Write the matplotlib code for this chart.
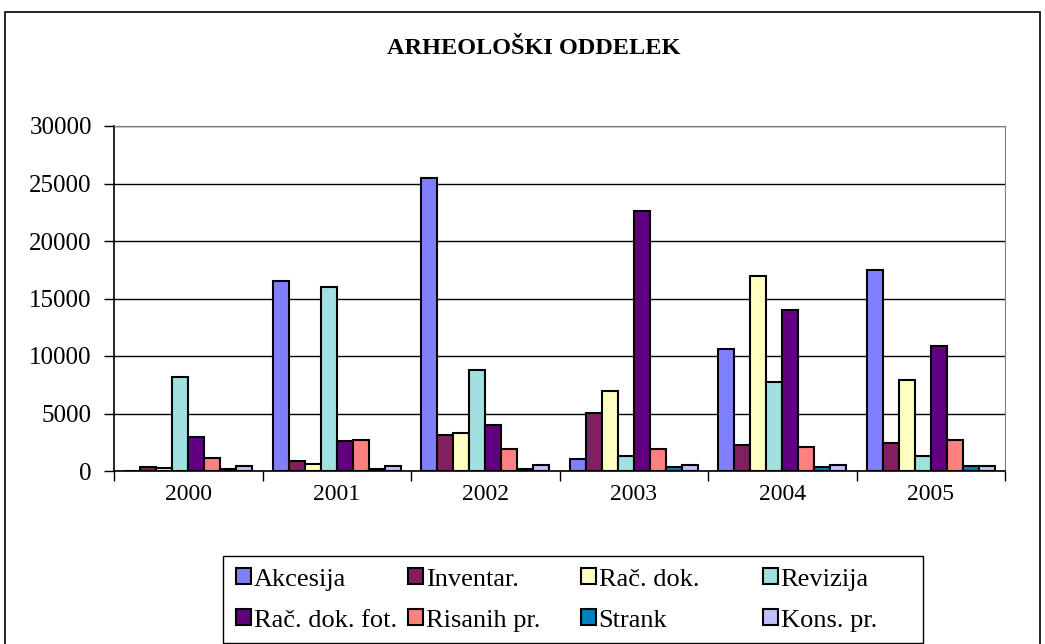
import matplotlib
matplotlib.use('Agg')
import matplotlib.pyplot as plt
import numpy as np
from matplotlib.patches import Rectangle

plt.rcParams['font.family'] = ['Liberation Serif', 'DejaVu Serif']

years = ['2000', '2001', '2002', '2003', '2004', '2005']
series = ['Akcesija', 'Inventar.', 'Rač. dok.', 'Revizija',
          'Rač. dok. fot.', 'Risanih pr.', 'Strank', 'Kons. pr.']

akcesija = [0, 16500, 25500, 1050, 10600, 17500]
inventar = [320, 870, 3100, 5050, 2230, 2400]
rac_dok = [300, 640, 3280, 6930, 17000, 7950]
revizija = [8150, 16000, 8800, 1330, 7770, 1330]
rac_dok_fot = [2930, 2600, 3970, 22600, 14000, 10900]
risanih = [1160, 2720, 1890, 1890, 2060, 2720]
strank = [170, 150, 150, 320, 320, 460]
kons = [460, 460, 520, 490, 490, 460]

values = [akcesija, inventar, rac_dok, revizija, rac_dok_fot, risanih, strank, kons]
colors = ['#8080FF', '#802060', '#FFFFC0', '#A0E0E0',
          '#600080', '#FF8080', '#0080C0', '#C0C0FF']

W, H = 1045, 644
fig = plt.figure(figsize=(W/100, H/100), dpi=100)
ax = fig.add_axes([114/W, 1 - 471/H, 891/W, 345/H])

x = np.arange(len(years))
w = 0.108
bars = []
for i, (name, vals, c) in enumerate(zip(series, values, colors)):
    b = ax.bar(x - 4*w + w/2 + i*w, vals, width=w, color=c, edgecolor='black',
               linewidth=1.5, label=name, zorder=3)
    bars.append(b)

ax.set_xlim(-0.5, len(years) - 0.5)
ax.set_ylim(0, 30000)
ax.set_yticks(range(0, 30001, 5000))
ax.tick_params(axis='y', labelsize=18, length=7, pad=9, direction='out', width=1)
ax.yaxis.grid(True, color='black', linewidth=1, zorder=0)

ax.set_xticks(x)
ax.set_xticklabels(years)
ax.set_xticks(np.arange(-0.5, len(years)), minor=True)
ax.tick_params(axis='x', which='major', length=0, labelsize=17, pad=9)
ax.tick_params(axis='x', which='minor', length=7, width=1)

for s in ['top', 'right']:
    ax.spines[s].set_color('#808080')
for s in ['left', 'bottom']:
    ax.spines[s].set_color('black')
    ax.spines[s].set_linewidth(1.2)

fig.text(534/W, 1 - 48/H, 'ARHEOLOŠKI ODDELEK', ha='center', va='center',
         fontsize=17.5, fontweight='bold')

# legend: one small legend per column so the columns sit evenly like the original
col_x = [236, 408, 581, 763]
for j in range(4):
    leg = fig.legend([bars[j], bars[j + 4]], [series[j], series[j + 4]],
                     loc='center left', bbox_to_anchor=(col_x[j]/W, 1 - 600/H),
                     fontsize=19, frameon=False, handlelength=0.55,
                     handleheight=0.55, handletextpad=0.12, labelspacing=0.7,
                     borderpad=0, borderaxespad=0)
fig.patches.append(Rectangle((223/W, 1 - 643/H), 700/W, 87/H,
                             transform=fig.transFigure, fill=False,
                             edgecolor='black', linewidth=1))

fig.patches.append(Rectangle((5/W, -0.1), 1035/W, 1.1 - 12/H,
                             transform=fig.transFigure, fill=False,
                             edgecolor='black', linewidth=1.2))

fig.savefig('out.png', dpi=100)
